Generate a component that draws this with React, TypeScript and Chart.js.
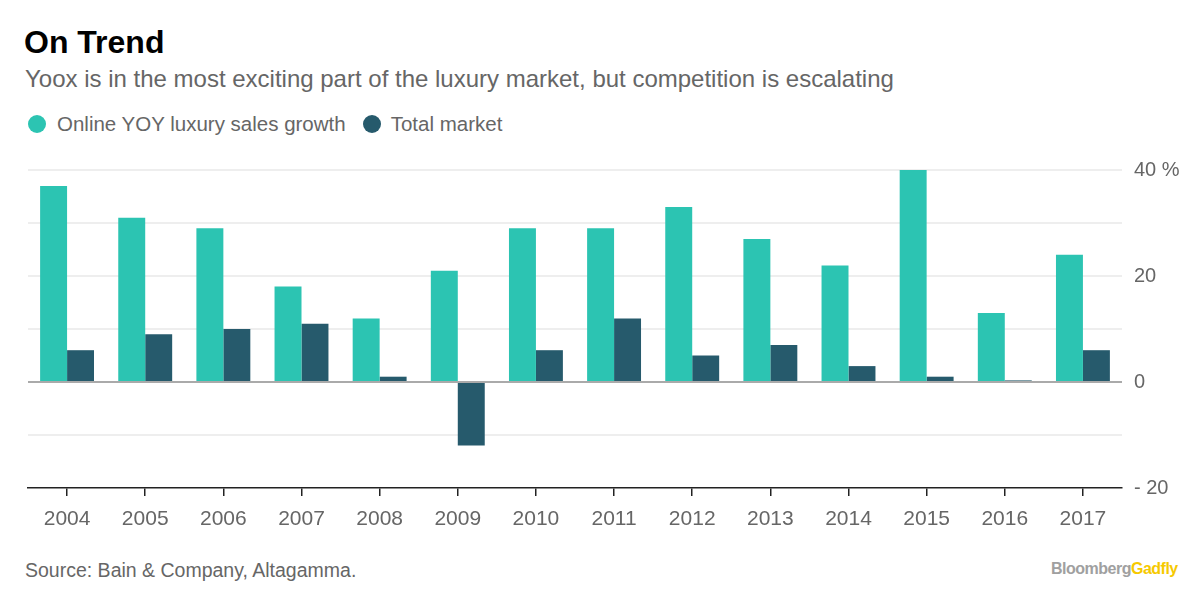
import React, { useEffect, useRef } from "react";
import { Chart, registerables } from "chart.js";

Chart.register(...registerables);

const years = ["2004", "2005", "2006", "2007", "2008", "2009", "2010", "2011", "2012", "2013", "2014", "2015", "2016", "2017"];
const onlineGrowth = [37, 31, 29, 18, 12, 21, 29, 29, 33, 27, 22, 40, 13, 24];
const totalMarket = [6, 9, 10, 11, 1, -12, 6, 12, 5, 7, 3, 1, 0.3, 6];
const seriesNames = ["Online YOY luxury sales growth", "Total market"];
const TEAL = "#2cc4b2";
const DARK = "#265a6c";
const FONT = "'Liberation Sans', Arial, sans-serif";

export default function App() {
  const ref = useRef<HTMLCanvasElement | null>(null);

  useEffect(() => {
    if (!ref.current) return;
    const chart = new Chart(ref.current, {
      type: "bar",
      data: {
        labels: years,
        datasets: [
          { label: seriesNames[0], data: onlineGrowth, backgroundColor: TEAL, categoryPercentage: 0.69, barPercentage: 1.0 },
          { label: seriesNames[1], data: totalMarket, backgroundColor: DARK, categoryPercentage: 0.69, barPercentage: 1.0 },
        ],
      },
      options: {
        responsive: false,
        animation: false,
        layout: { padding: { left: 28, top: 24, right: 0, bottom: 0 } },
        plugins: { legend: { display: false }, tooltip: { enabled: false } },
        scales: {
          x: {
            offset: true,
            grid: {
              offset: false,
              drawOnChartArea: false,
              drawTicks: true,
              tickLength: 8,
              color: "#222",
              lineWidth: 1.5,
            },
            border: { display: true, color: "#222", width: 1.5 },
            ticks: { color: "#666", font: { family: FONT, size: 21 }, padding: 11 },
            afterFit: (s: any) => { s.height = 50; },
          },
          y: {
            position: "right",
            min: -20,
            max: 40,
            ticks: {
              stepSize: 10,
              color: "#666",
              padding: 12,
              font: { family: FONT, size: 20 },
              callback: (v: any) => (v === 40 ? "40 %" : v % 20 === 0 ? String(v).replace("-", "- ") : ""),
            },
            grid: {
              drawTicks: false,
              lineWidth: 2,
              color: (ctx: any) => {
                const v = ctx.tick && ctx.tick.value;
                if (v === 0) return "#aaaaaa";
                if (v === -20) return "rgba(0,0,0,0)";
                return "#eeeeee";
              },
            },
            border: { display: false },
            afterFit: (s: any) => { s.width = 78; },
          },
        },
      },
    });
    return () => chart.destroy();
  }, []);

  const dot = (c: string): React.CSSProperties => ({
    display: "inline-block",
    width: 18,
    height: 18,
    borderRadius: 9,
    background: c,
    verticalAlign: "middle",
  });

  return (
    <div style={{ position: "absolute", left: 0, top: 0, width: 1200, height: 594, background: "#fff", fontFamily: FONT, overflow: "hidden" }}>
      <div style={{ position: "absolute", left: 24, top: 23, fontSize: 32, fontWeight: "bold", color: "#000", lineHeight: "38px" }}>On Trend</div>
      <div style={{ position: "absolute", left: 25, top: 65, fontSize: 24, color: "#666", lineHeight: "28px", whiteSpace: "nowrap" }}>
        Yoox is in the most exciting part of the luxury market, but competition is escalating
      </div>
      <div style={{ position: "absolute", left: 28, top: 109, fontSize: 20.5, color: "#666", lineHeight: "26px", whiteSpace: "nowrap" }}>
        <span style={dot(TEAL)} />
        <span style={{ verticalAlign: "middle", marginLeft: 11 }}>{seriesNames[0]}</span>
        <span style={{ ...dot(DARK), marginLeft: 17 }} />
        <span style={{ verticalAlign: "middle", marginLeft: 10 }}>{seriesNames[1]}</span>
      </div>
      <canvas ref={ref} width={1200} height={392} style={{ position: "absolute", left: 0, top: 146, width: 1200, height: 392 }} />
      <div style={{ position: "absolute", left: 25, top: 558, fontSize: 19.5, color: "#666", lineHeight: "24px", whiteSpace: "nowrap" }}>
        Source: Bain &amp; Company, Altagamma.
      </div>
      <div style={{ position: "absolute", left: 1051, top: 559, fontSize: 16, fontWeight: "bold", lineHeight: "20px", letterSpacing: -0.5, whiteSpace: "nowrap" }}>
        <span style={{ color: "#a0a0a0" }}>Bloomberg</span>
        <span style={{ color: "#f6c900" }}>Gadfly</span>
      </div>
    </div>
  );
}
